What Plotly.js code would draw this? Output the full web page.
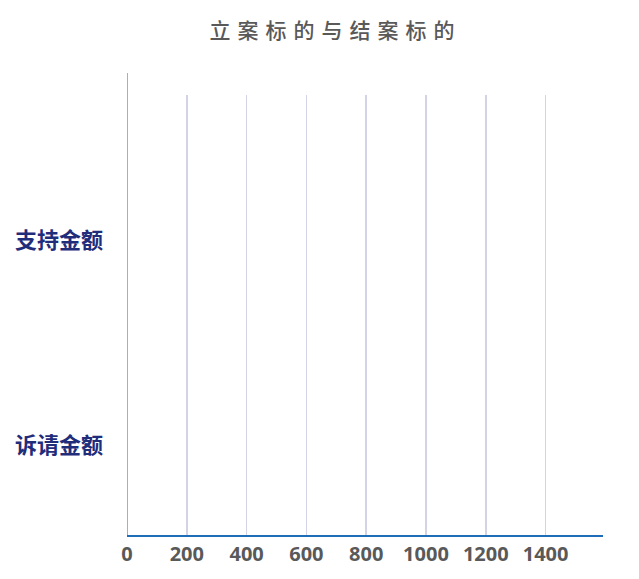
<!DOCTYPE html>
<html>
<head>
<meta charset="utf-8">
<script src="https://cdn.plot.ly/plotly-3.0.1.min.js"></script>
<style>html,body{margin:0;padding:0;background:#fff;}#chart{width:639px;height:579px;}</style>
</head>
<body>
<div id="chart"></div>
<script>
// Data (chart shows no visible bars)
const categories = ['诉请金额', '支持金额'];
const amounts = [0, 0];
const xTickValues = [0, 200, 400, 600, 800, 1000, 1200, 1400];
const titleText = '立案标的与结案标的';

const spacedTitle = titleText.split('').join('\u2004');

const trace = {
  type: 'bar',
  orientation: 'h',
  y: categories,
  x: amounts,
  marker: {color: '#2E75B6'},
  hoverinfo: 'x+y'
};

const layout = {
  width: 639,
  height: 579,
  margin: {l: 127, r: 36, t: 95, b: 44},
  paper_bgcolor: '#ffffff',
  plot_bgcolor: '#ffffff',
  showlegend: false,
  title: {
    text: spacedTitle,
    x: 332 / 639,
    xref: 'container',
    xanchor: 'center',
    y: 1 - 31 / 579,
    yref: 'container',
    yanchor: 'middle',
    font: {family: '"Noto Sans CJK SC", sans-serif', size: 21, color: '#595959', weight: 500}
  },
  xaxis: {
    range: [0, 1592],
    tickvals: xTickValues,
    ticktext: xTickValues.map(String),
    showgrid: true,
    gridcolor: '#d3d3e6',
    gridwidth: 1.6,
    zeroline: false,
    showline: true,
    linecolor: '#1F6DB8',
    linewidth: 2,
    ticks: '',
    tickfont: {family: '"Open Sans", sans-serif', size: 20, color: '#595959', weight: 700},
    fixedrange: true
  },
  yaxis: {
    type: 'category',
    categoryorder: 'array',
    categoryarray: categories,
    range: [-0.44, 1.707],
    showgrid: false,
    zeroline: false,
    showline: false,
    ticks: '',
    ticklabelstandoff: 23,
    tickfont: {family: '"Noto Sans CJK SC", sans-serif', size: 22, color: '#1F2D7B', weight: 700},
    fixedrange: true
  },
  shapes: [{
    type: 'line',
    xref: 'x', yref: 'paper',
    x0: 0, x1: 0, y0: 0, y1: 1.05,
    line: {color: '#1F6DB8', width: 1}
  }]
};

Plotly.newPlot('chart', [trace], layout, {displayModeBar: false, staticPlot: true});
</script>
</body>
</html>
